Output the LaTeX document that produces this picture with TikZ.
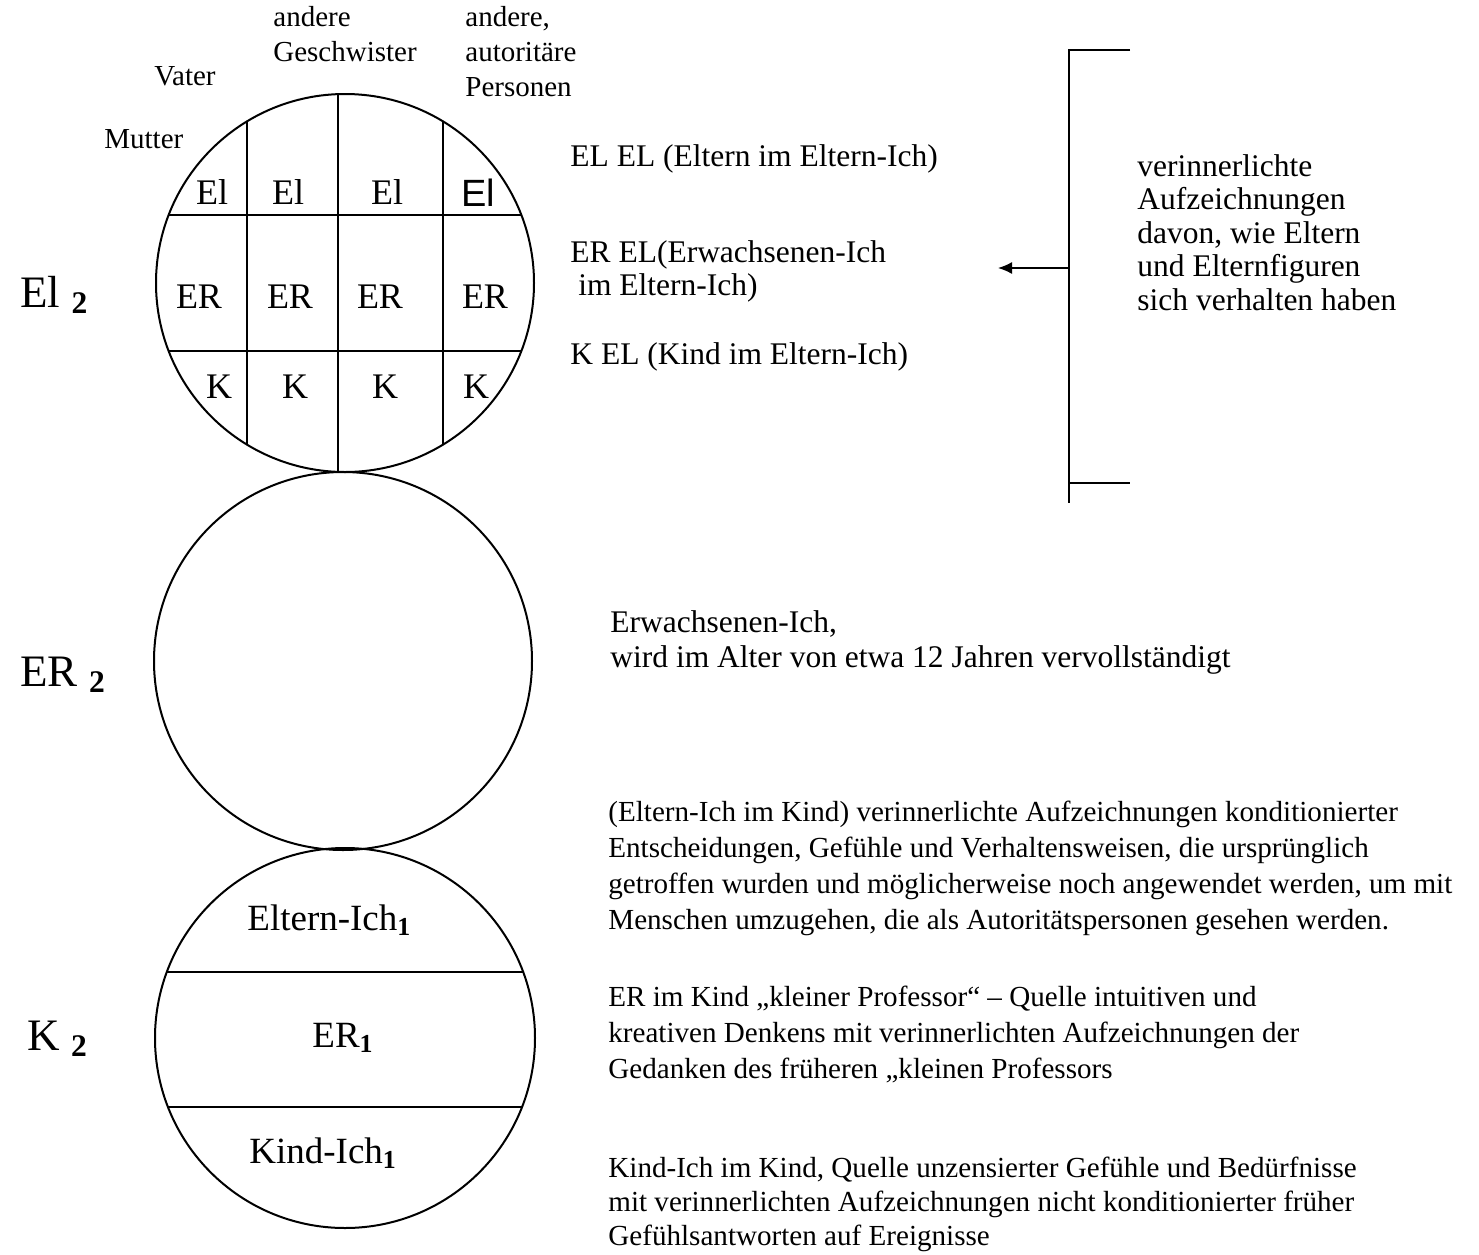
\documentclass[tikz,border=0pt]{standalone}
\usepackage{fontspec}
\setmainfont{Liberation Serif}
\newfontfamily\handfont{Liberation Sans}
\usetikzlibrary{arrows.meta}

\newcommand\fsTop{\fontsize{14.5}{17.5}\selectfont}
\newcommand\fsMid{\fontsize{15.75}{16.5}\selectfont}
\newcommand\fsLow{\fontsize{14.55}{18}\selectfont}
\newcommand\fsCell{\fontsize{18}{20}\selectfont}
\newcommand\fsBig{\fontsize{22.5}{25}\selectfont}
\newcommand\sub[1]{\textsubscript{\textbf{#1}}}

\tikzset{
  txt/.style={inner sep=0pt, anchor=base west, align=left},
  cell/.style={inner sep=0pt, anchor=base, font=\fsCell},
  ring/.style={line width=1pt},
}

\begin{document}
\begin{tikzpicture}[x=0.5pt,y=-0.5pt]
\useasboundingbox (0,0) rectangle (1479,1254);

% Eltern-Ich
\draw[ring] (345,283) circle[radius=189];
\begin{scope}
\clip (345,283) circle[radius=189];
\draw[ring] (247,80) -- (247,490);
\draw[ring] (338,80) -- (338,490);
\draw[ring] (443,80) -- (443,490);
\draw[ring] (140,215) -- (550,215);
\draw[ring] (140,351) -- (550,351);
\end{scope}

\node[cell] (el1) at (212,204) {El};
\node[cell] (el2) at (288,204) {El};
\node[cell] (el3) at (387,204) {El};
\node[cell,font=\handfont\fontsize{19}{20}\selectfont] (el4) at (478,206) {El};
\node[cell] (er1) at (199,308) {ER};
\node[cell] (er2) at (290,308) {ER};
\node[cell] (er3) at (380,308) {ER};
\node[cell] (er4) at (485,308) {ER};
\node[cell] (k1) at (219,398) {K};
\node[cell] (k2) at (295,398) {K};
\node[cell] (k3) at (385,398) {K};
\node[cell] (k4) at (476,398) {K};

\node[txt,font=\fsTop] (mutter) at (104,148) {Mutter};
\node[txt,font=\fsTop] (vater) at (154,85) {Vater};
\node[txt,font=\fsTop] (geschw) at (273,61) {andere\\Geschwister};
\node[txt,font=\fsTop] (autor) at (465,96) {andere,\\autoritäre\\Personen};

% Erwachsenen-Ich
\draw[ring] (343,661) circle[radius=189];

% Kind-Ich
\draw[ring] (345,1038) circle[radius=190];
\begin{scope}
\clip (345,1038) circle[radius=190];
\draw[ring] (140,972) -- (550,972);
\draw[ring] (140,1107) -- (550,1107);
\end{scope}
\node[txt,font=\fontsize{18.5}{20}\selectfont] (kel) at (247,930) {Eltern-Ich\sub{1}};
\node[txt,font=\fontsize{18.5}{20}\selectfont] (ker) at (312,1047) {ER\sub{1}};
\node[txt,font=\fontsize{18.5}{20}\selectfont] (kk) at (249,1163) {Kind-Ich\sub{1}};

\node[txt,font=\fsBig] (el) at (20,307) {El \sub{2}};
\node[txt,font=\fsBig] (er) at (20,686) {ER \sub{2}};
\node[txt,font=\fsBig] (k) at (27,1050) {K \sub{2}};

\node[txt,font=\fsMid] (elel) at (570,166) {EL EL (Eltern im Eltern-Ich)};
\node[txt,font=\fsMid] (erel) at (570,295) {ER EL(Erwachsenen-Ich\\\hspace*{.25em}im Eltern-Ich)};
\node[txt,font=\fsMid] (kel2) at (570,364) {K EL (Kind im Eltern-Ich)};

\coordinate (brtop) at (1069,50);
\coordinate (brbot) at (1069,503);
\coordinate (brmid) at (1069,268);
\coordinate (brarr) at (998,268);
\draw[line width=.75pt] (1130,50) -- (brtop) -- (brbot);
\draw[line width=.75pt] (1069,483) -- (1130,483);
\draw[line width=.75pt,-{Latex[length=7pt,width=6pt]}] (brmid) -- (brarr);
\node[txt,font=\fontsize{15.75}{16.75}\selectfont] (verinn) at (1137,310) {verinnerlichte\\Aufzeichnungen\\davon, wie Eltern\\und Elternfiguren\\sich verhalten haben};

\node[txt,font=\fontsize{15.75}{17.5}\selectfont] (erw) at (610,667) {Erwachsenen-Ich,\\wird im Alter von etwa 12 Jahren vervollständigt};

\node[txt,font=\fsLow] (elk) at (608,929) {(Eltern-Ich im Kind) verinnerlichte Aufzeichnungen konditionierter\\Entscheidungen, Gefühle und Verhaltensweisen, die ursprünglich\\getroffen wurden und möglicherweise noch angewendet werden, um mit\\Menschen umzugehen, die als Autoritätspersonen gesehen werden.};
\node[txt,font=\fsLow] (erk) at (608,1078) {ER im Kind „kleiner Professor“ – Quelle intuitiven und\\kreativen Denkens mit verinnerlichten Aufzeichnungen der\\Gedanken des früheren „kleinen Professors};
\node[txt,font=\fontsize{14.55}{17}\selectfont] (kk2) at (608,1245) {Kind-Ich im Kind, Quelle unzensierter Gefühle und Bedürfnisse\\mit verinnerlichten Aufzeichnungen nicht konditionierter früher\\Gefühlsantworten auf Ereignisse};

\end{tikzpicture}
\end{document}
